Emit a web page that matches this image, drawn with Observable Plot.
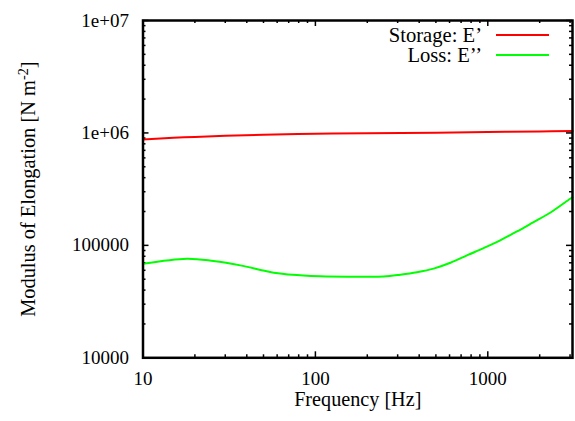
<!DOCTYPE html>
<html>
<head>
<meta charset="utf-8">
<script src="https://cdn.jsdelivr.net/npm/d3@7"></script>
<script src="https://cdn.jsdelivr.net/npm/@observablehq/plot@0.6"></script>
<style>
  html, body { margin: 0; padding: 0; background: white; }
  svg text { font-family: "Liberation Serif", "Times New Roman", serif; }
</style>
</head>
<body>
<div id="chart"></div>
<script>
// ---- data ----
const seriesNames = ["Storage: E\u2019", "Loss: E\u2019\u2019"];
const seriesColors = ["#ff0000", "#00ff00"];

const storageFreq = [10, 15, 20, 30, 50, 100, 200, 500, 1000, 2000, 3100];
const storageValue = [875000, 905000, 922000, 942000, 962000, 985000, 995000, 1005000, 1018000, 1030000, 1040000];

const lossFreq = [10, 18, 25.6, 36.7, 57.3, 89.5, 175, 249, 311, 388, 485, 607, 757, 946, 1180, 1477, 1844, 2300, 3006, 3100];
const lossValue = [68500, 76200, 72600, 66400, 57200, 53800, 52700, 52900, 54900, 57700, 62100, 70000, 81500, 94600, 110800, 133000, 161000, 195000, 260000, 268000];

const xTickValues = [10, 100, 1000];
const xTickLabels = ["10", "100", "1000"];
const yTickValues = [1e4, 1e5, 1e6, 1e7];
const yTickLabels = ["10000", "100000", "1e+06", "1e+07"];

const xTitle = "Frequency [Hz]";
const yTitle = "Modulus of Elongation [N m-2]";

// ---- layout ----
const W = 575, H = 421;
const mL = 142.5, mR = 3, mT = 20, mB = 63.7;
const plotH = H - mT - mB;
const plotW = W - mL - mR;
const xDomain = [10, 3100];
const yDomain = [1e4, 1e7];
const FONT = "'Liberation Serif', 'Times New Roman', serif";
const FS = 19;
const FS_TITLE_X = 20.2;
const FS_TITLE_Y = 20.4;
const FS_LEGEND = 20.6;

function minorTicks(domain) {
  const out = [];
  for (let e = Math.floor(Math.log10(domain[0])); e <= Math.ceil(Math.log10(domain[1])); e++) {
    for (let m = 2; m <= 9; m++) {
      const v = m * Math.pow(10, e);
      if (v > domain[0] && v < domain[1]) out.push(v);
    }
  }
  return out;
}
const xMinor = minorTicks(xDomain);
const yMinor = minorTicks(yDomain);

const storage = storageFreq.map((f, i) => ({f, v: storageValue[i]}));
const loss = lossFreq.map((f, i) => ({f, v: lossValue[i]}));

function legendMark(index, scales, values, dims) {
  const g = d3.create("svg:g");
  const right = dims.width - dims.marginRight;
  seriesNames.forEach((name, i) => {
    const y = dims.marginTop + 15 + i * 20;
    g.append("text")
      .attr("x", right - 90).attr("y", y)
      .attr("text-anchor", "end").attr("dy", "0.35em")
      .attr("fill", "black")
      .attr("font-family", FONT).attr("font-size", FS_LEGEND)
      .text(name);
    g.append("line")
      .attr("x1", right - 76).attr("x2", right - 23)
      .attr("y1", y).attr("y2", y)
      .attr("stroke", seriesColors[i]).attr("stroke-width", 2);
  });
  return g.node();
}

const chart = Plot.plot({
  width: W, height: H,
  marginLeft: mL, marginRight: mR, marginTop: mT, marginBottom: mB,
  x: {type: "log", domain: xDomain},
  y: {type: "log", domain: yDomain},
  style: `font-family: ${FONT}; font-size: ${FS}px; background: white; color: black;`,
  marks: [
    // inward ticks, all four sides
    Plot.tickX(xMinor, {x: d => d, insetTop: plotH - 3, strokeWidth: 1.5}),
    Plot.tickX(xMinor, {x: d => d, insetBottom: plotH - 3, strokeWidth: 1.5}),
    Plot.tickX(xTickValues, {x: d => d, insetTop: plotH - 6, strokeWidth: 1.5}),
    Plot.tickX(xTickValues, {x: d => d, insetBottom: plotH - 6, strokeWidth: 1.5}),
    Plot.tickY(yMinor, {y: d => d, insetRight: plotW - 3, strokeWidth: 1.5}),
    Plot.tickY(yMinor, {y: d => d, insetLeft: plotW - 3, strokeWidth: 1.5}),
    Plot.tickY(yTickValues, {y: d => d, insetRight: plotW - 6, strokeWidth: 1.5}),
    Plot.tickY(yTickValues, {y: d => d, insetLeft: plotW - 6, strokeWidth: 1.5}),
    Plot.axisX({ticks: xTickValues, tickFormat: d => xTickLabels[xTickValues.indexOf(d)], tickSize: 0, tickPadding: 14, label: null, fontSize: FS}),
    Plot.axisY({ticks: yTickValues, tickFormat: d => yTickLabels[yTickValues.indexOf(d)], tickSize: 0, tickPadding: 14, label: null, fontSize: FS}),
    Plot.line(storage, {x: "f", y: "v", stroke: seriesColors[0], strokeWidth: 2, curve: "catmull-rom"}),
    Plot.line(loss, {x: "f", y: "v", stroke: seriesColors[1], strokeWidth: 2, curve: "catmull-rom"}),
    Plot.text([xTitle], {text: d => d, frameAnchor: "bottom", dy: 48, fontSize: FS_TITLE_X}),
    Plot.text([yTitle], {text: d => d, frameAnchor: "left", textAnchor: "middle", dx: -115, rotate: -90, fontSize: FS_TITLE_Y}),
    legendMark,
    Plot.frame({strokeWidth: 2.5})
  ]
});

chart.style.fontFamily = FONT;
chart.style.fontSize = FS + "px";

// superscript in the y title
d3.select(chart).selectAll("text").each(function() {
  if (this.textContent === yTitle) {
    const t = d3.select(this);
    t.text(null);
    t.append("tspan").text("Modulus of Elongation [N m");
    t.append("tspan").attr("dy", "-0.45em").attr("font-size", "0.7em").text("-2");
    t.append("tspan").attr("dy", "0.32em").text("]");
  }
});

document.getElementById("chart").appendChild(chart);
</script>
</body>
</html>
